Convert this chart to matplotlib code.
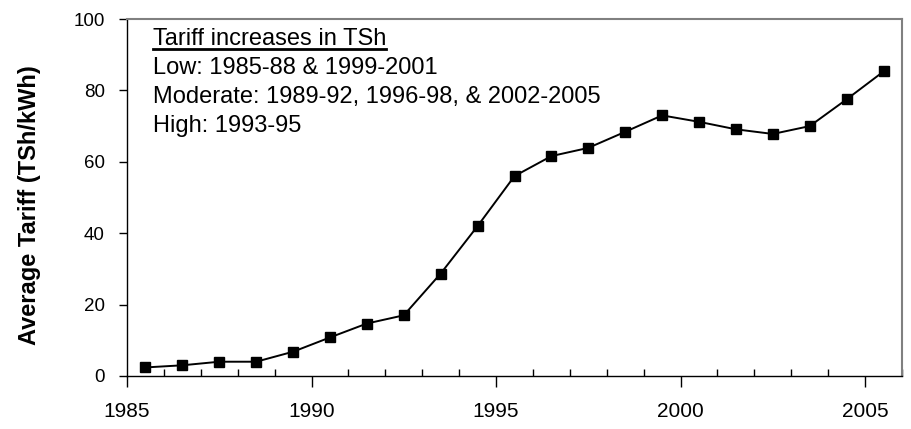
import matplotlib
matplotlib.use("Agg")
import matplotlib.pyplot as plt
from matplotlib.lines import Line2D
from matplotlib.ticker import MultipleLocator, FixedLocator

years = list(range(1985, 2006))
tariff = [2.4, 3.0, 4.0, 4.0, 6.8, 10.8, 14.7, 17.0, 28.7, 42.0, 56.0,
          61.6, 63.9, 68.4, 73.0, 71.2, 69.1, 67.8, 70.0, 77.5, 85.3]
tick_years = [1985, 1990, 1995, 2000, 2005]
ylabel = "Average Tariff (TSh/kWh)"
note_title = "Tariff increases in TSh"
note_lines = ["Low: 1985-88 & 1999-2001",
              "Moderate: 1989-92, 1996-98, & 2002-2005",
              "High: 1993-95"]

plt.rcParams['font.family'] = ['Liberation Sans', 'DejaVu Sans']

fig = plt.figure(figsize=(9.11, 4.29), dpi=100)
ax = fig.add_axes([127/911, 1 - 376/429, (902-127)/911, (376-19)/429])

# categories centered between year ticks (Excel-style category axis)
xpos = [y + 0.5 for y in years]
ax.plot(xpos, tariff, color='black', lw=1.4, marker='s', markersize=7,
        markerfacecolor='black', markeredgecolor='black', clip_on=False)

ax.set_xlim(1985, 2006)
ax.set_ylim(0, 100)
ax.xaxis.set_major_locator(FixedLocator(tick_years))
ax.set_xticklabels([str(t) for t in tick_years])
ax.xaxis.set_minor_locator(MultipleLocator(1))
ax.yaxis.set_major_locator(MultipleLocator(20))

ax.tick_params(axis='x', which='major', direction='out', length=8, width=1,
               pad=11, labelsize=15, color='black')
ax.tick_params(axis='x', which='minor', direction='in', length=5, width=1,
               color='black')
ax.tick_params(axis='y', which='major', direction='out', length=6, width=1,
               pad=10, labelsize=13.5, color='black')

for s in ['left', 'bottom']:
    ax.spines[s].set_color('black')
    ax.spines[s].set_linewidth(1.0)
for s in ['top', 'right']:
    ax.spines[s].set_color('#808080')
    ax.spines[s].set_linewidth(1.5)

fig.text(30/911, 1 - 205/429, ylabel, rotation=90, ha='center', va='center',
         fontsize=17, fontweight='bold')

# annotation block
tx = 153/911
t = fig.text(tx, 1 - 39/429, note_title, ha='left', va='center', fontsize=17)
ys = [68, 97, 126]
for line, yy in zip(note_lines, ys):
    fig.text(tx, 1 - yy/429, line, ha='left', va='center', fontsize=17)

fig.canvas.draw()
bb = t.get_window_extent()
inv = fig.transFigure.inverted()
(x0, y0), (x1, y1) = inv.transform([[bb.x0, bb.y0], [bb.x1, bb.y0]])
fig.add_artist(Line2D([x0, x1], [y0 + 1/429, y0 + 1/429],
                      transform=fig.transFigure, color='black', lw=2))

fig.savefig("out.png", dpi=100)
